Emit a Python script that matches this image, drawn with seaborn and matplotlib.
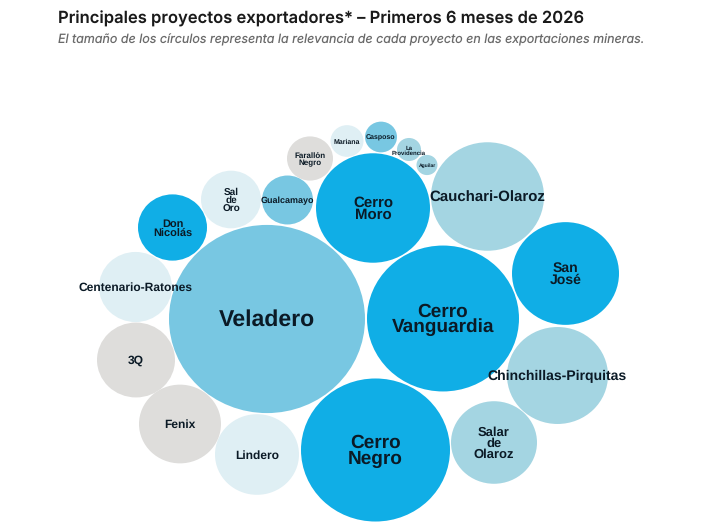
import matplotlib
matplotlib.use("Agg")
import matplotlib.pyplot as plt
from matplotlib.font_manager import FontProperties
from matplotlib.markers import MarkerStyle
from matplotlib.path import Path
from matplotlib.transforms import Affine2D
import pandas as pd
import seaborn as sns

TITLE = "Principales proyectos exportadores* – Primeros 6 meses de 2026"
SUBTITLE = "El tamaño de los círculos representa la relevancia de cada proyecto en las exportaciones mineras."

projects = ["Veladero", "Cerro\nVanguardia", "Cerro\nNegro", "Cerro\nMoro", "Cauchari-Olaroz",
            "San\nJosé", "Chinchillas-Pirquitas", "Salar\nde\nOlaroz", "Lindero", "Fenix",
            "3Q", "Centenario-Ratones", "Don\nNicolás", "Sal\nde\nOro", "Gualcamayo",
            "Farallón\nNegro", "Mariana", "Casposo", "La\nProvidencia", "Aguilar"]
center_x = [267, 443, 375.5, 373, 487.5, 565.5, 557.5, 494, 257, 180, 136, 135.5, 172.5, 231, 287.5, 310, 347, 381, 409, 427]
center_y = [319, 318.5, 450, 208, 196.5, 273.5, 375.5, 442.5, 454.5, 424, 360, 287, 227.5, 199.5, 200, 158.5, 141, 137, 149.5, 165]
radius = [98, 76, 74.5, 57, 56.5, 53.5, 50.5, 43, 42, 41, 39, 36.5, 34.5, 30, 25.5, 23, 16.5, 16, 12, 10.5]
group = ["mid", "bright", "bright", "bright", "light", "bright", "light", "light", "pale", "grey",
         "grey", "pale", "bright", "pale", "mid", "grey", "pale", "mid", "light", "light"]
label_size = [16.8, 13.6, 13.5, 11, 11.1, 10.4, 10.3, 9.2, 8.9, 8.7, 8.5, 8.4, 7.9, 7.3, 6.7, 6.1, 5.3, 5.3, 4.2, 3.6]
palette = {"bright": "#10AEE6", "mid": "#78C7E2", "light": "#A4D5E2", "pale": "#DFEFF4", "grey": "#DEDDDB"}

W, H, DPI = 728, 529, 100
PX = 72 / DPI
SQUASH = 0.96  # the reference picture is slightly flattened
df = pd.DataFrame({"x": center_x, "y": center_y, "r": radius, "group": group, "label": projects, "fs": label_size})
df["area"] = df["r"] ** 2

sns.set_theme(style="white")
plt.rcParams["text.hinting"] = "no_hinting"
plt.rcParams["text.hinting_factor"] = 1
fig = plt.figure(figsize=(W / DPI, H / DPI), dpi=DPI, facecolor="white")
ax = fig.add_axes([0, 0, 1, 1])
ax.set_xlim(0, W)
ax.set_ylim(H, 0)
area_to_s = lambda a: 4 * a * PX ** 2
oval = MarkerStyle(Path.unit_circle().transformed(Affine2D().scale(1, SQUASH)))
sns.scatterplot(data=df, x="x", y="y", hue="group", palette=palette, size="area",
                sizes=(area_to_s(df["area"].min()), area_to_s(df["area"].max())),
                marker=oval, linewidth=0, legend=False, ax=ax, zorder=2)
ax.axis("off")

for row in df.itertuples():
    fp = FontProperties(family="Liberation Sans", weight="bold", size=row.fs)
    ax.text(row.x, row.y + 1, row.label, ha="center", va="center", fontproperties=fp,
            color="#0B1A26", linespacing=0.88, zorder=3)

ax.text(58, 18.5, TITLE, fontsize=11.95, fontweight="semibold", family="Inter", color="#1a1a1a", va="center")
ax.text(58, 40, SUBTITLE, fontsize=9.0, style="italic", family="Inter", color="#6a6a6a", va="center")

fig.savefig("out.png", dpi=DPI)
